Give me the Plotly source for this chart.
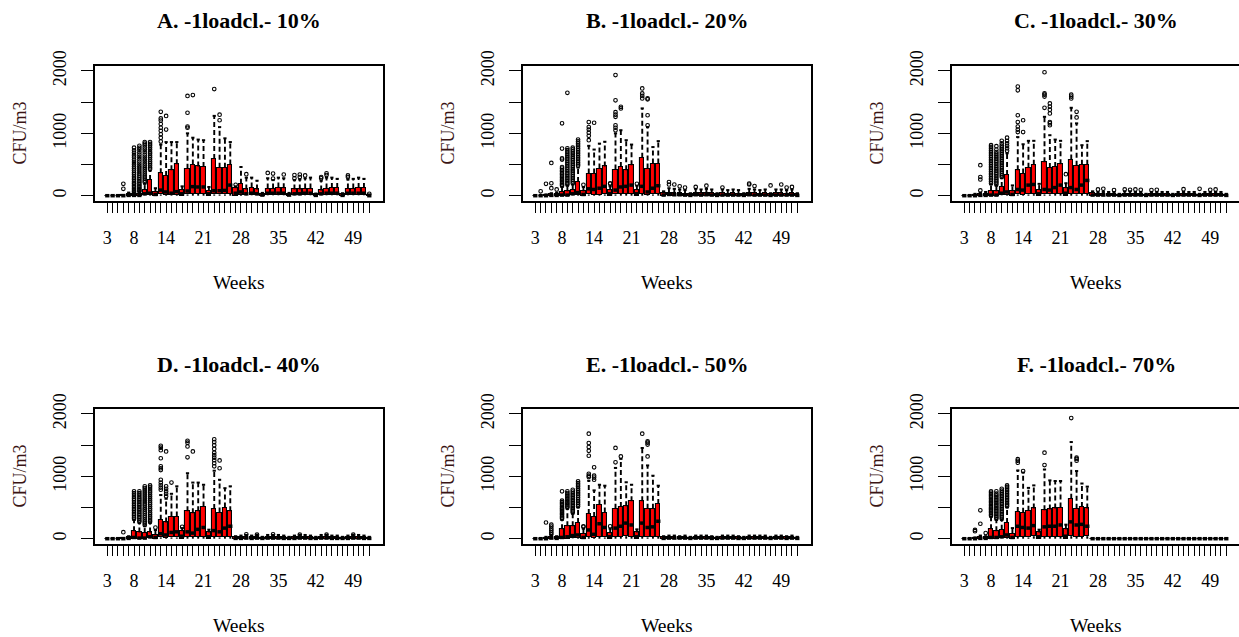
import plotly.graph_objects as go

# ---------------------------------------------------------------------------
# Weekly CFU/m3 box-plot summaries (weeks 3..52) for six load-class settings
# ---------------------------------------------------------------------------
WEEKS = list(range(3, 53))
X_TICK_LABELS = {3: "3", 8: "8", 14: "14", 21: "21", 28: "28", 35: "35", 42: "42", 49: "49"}
Y_TICKS = [0, 500, 1000, 1500, 2000]
Y_TICK_TEXT = ["0", "", "1000", "", "2000"]
LOWER_WHISKER = 0

TITLES = ["A. -1loadcl.- 10%", "B. -1loadcl.- 20%", "C. -1loadcl.- 30%",
          "D. -1loadcl.- 40%", "E. -1loadcl.- 50%", "F. -1loadcl.- 70%"]

# ---- A: 10% ----
A_Q1 = [0, 0, 0, 0, 0, 0, 0, 5, 10, 0,
        20, 15, 10, 15, 0, 20, 30, 30, 30, 0,
        20, 20, 20, 30, 0, 10, 5, 5, 5, 0,
        5, 5, 5, 5, 0, 5, 5, 5, 5, 0,
        5, 5, 5, 5, 0, 5, 5, 5, 5, 0]
A_MED = [0, 0, 0, 0, 5, 5, 5, 30, 40, 20,
         90, 60, 40, 65, 30, 75, 145, 140, 140, 30,
         80, 80, 85, 170, 40, 60, 30, 40, 30, 10,
         40, 40, 40, 40, 10, 30, 30, 40, 40, 5,
         30, 40, 40, 40, 5, 40, 40, 40, 40, 0]
A_Q3 = [0, 0, 0, 5, 30, 25, 30, 90, 250, 60,
        360, 316, 407, 504, 90, 434, 500, 470, 460, 80,
        590, 450, 450, 500, 120, 190, 100, 130, 100, 30,
        115, 115, 130, 120, 30, 100, 100, 115, 115, 20,
        85, 115, 125, 125, 25, 115, 115, 125, 125, 10]
A_HI = [0, 0, 0, 10, 50, 50, 60, 190, 400, 120,
        820, 860, 860, 860, 150, 1000, 930, 900, 890, 140,
        1280, 1100, 920, 860, 150, 460, 290, 290, 240, 45,
        280, 250, 290, 280, 45, 250, 260, 280, 290, 35,
        240, 290, 290, 270, 40, 260, 270, 290, 270, 20]
A_OUT = {
    6: [110, 190],
    8: [55, 70, 92, 115, 138, 160, 186, 205, 232, 258, 284, 310, 345, 372, 405,
        438, 470, 505, 540, 578, 615, 650, 690, 728, 770],
    9: [70, 88, 110, 135, 158, 182, 210, 236, 262, 290, 318, 350, 380, 412, 445,
        478, 512, 548, 585, 620, 658, 695, 735, 768, 800],
    10: [215, 240, 270, 300, 328, 360, 392, 425, 455, 488, 520, 555, 590, 625,
         660, 700, 735, 770, 805, 835, 860],
    11: [430, 455, 490, 520, 548, 580, 612, 640, 672, 700, 735, 768, 800, 830, 860],
    13: [870, 930, 985, 1040, 1090, 1150, 1205, 1240, 1345],
    14: [1060, 1280],
    18: [1090, 1110, 1330, 1600],
    19: [1613],
    23: [1710],
    24: [1210, 1300],
    27: [175],
    29: [345], 33: [365], 34: [275, 355], 36: [340], 38: [280, 330],
    39: [300, 340], 40: [325], 43: [280, 300], 44: [330, 360], 48: [300, 325],
    52: [30],
}

# ---- B: 20% ----
B_Q1 = [0, 0, 0, 0, 0, 0, 0, 5, 10, 0,
        20, 15, 15, 20, 0, 20, 30, 30, 30, 0,
        30, 15, 20, 30, 0, 5, 0, 0, 0, 0,
        0, 0, 0, 0, 0, 0, 0, 0, 0, 0,
        0, 0, 0, 0, 0, 0, 0, 0, 0, 0]
B_MED = [0, 0, 0, 5, 5, 10, 10, 30, 50, 20,
         110, 100, 120, 150, 30, 90, 140, 150, 170, 30,
         150, 60, 120, 160, 10, 20, 15, 15, 10, 5,
         15, 10, 15, 10, 5, 10, 10, 10, 10, 5,
         15, 10, 10, 10, 5, 10, 10, 10, 10, 5]
B_Q3 = [0, 0, 10, 20, 25, 60, 70, 90, 220, 70,
        355, 355, 435, 470, 90, 420, 460, 410, 490, 90,
        610, 435, 515, 515, 40, 50, 40, 40, 35, 20,
        45, 40, 45, 40, 20, 40, 35, 40, 35, 20,
        45, 40, 35, 40, 20, 40, 40, 35, 40, 20]
B_HI = [0, 10, 20, 40, 50, 140, 160, 180, 450, 140,
        800, 740, 835, 865, 150, 1000, 1050, 890, 820, 160,
        1400, 1100, 780, 875, 70, 120, 110, 100, 90, 40,
        110, 100, 110, 100, 40, 100, 90, 100, 90, 40,
        110, 100, 90, 100, 40, 100, 100, 90, 100, 40]
B_OUT = {
    4: [70], 5: [190], 6: [120, 200, 525], 7: [100],
    8: [160, 178, 200, 222, 246, 268, 290, 315, 338, 362, 388, 410, 436, 460,
        580, 600, 755, 1160],
    9: [180, 205, 232, 258, 285, 310, 338, 365, 392, 420, 448, 476, 505, 532,
        560, 590, 618, 645, 672, 700, 730, 760, 1650],
    10: [200, 228, 255, 284, 312, 340, 370, 398, 426, 455, 484, 512, 540, 570,
         598, 626, 655, 684, 712, 742, 770],
    11: [480, 505, 532, 560, 590, 615, 645, 672, 700, 728, 756, 785, 812, 840,
         870, 900],
    12: [175],
    13: [890, 960, 1010, 1060, 1100, 1180],
    14: [1170],
    17: [190, 200],
    18: [1050, 1090, 1130, 1265, 1300, 1340, 1530, 1935],
    19: [1400, 1425],
    22: [190],
    23: [1560, 1600, 1640, 1720],
    24: [1130, 1290, 1545, 1560],
    28: [180, 220], 29: [180], 30: [150], 31: [130], 33: [140], 35: [160],
    38: [130], 43: [180, 195], 44: [155], 47: [165], 49: [180], 50: [130],
    51: [140],
}

# ---- C: 30% ----
C_Q1 = [0, 0, 0, 0, 0, 0, 0, 5, 10, 0,
        20, 15, 20, 25, 0, 20, 20, 30, 30, 0,
        30, 20, 30, 30, 0, 0, 0, 0, 0, 0,
        0, 0, 0, 0, 0, 0, 0, 0, 0, 0,
        0, 0, 0, 0, 0, 0, 0, 0, 0, 0]
C_MED = [0, 0, 0, 5, 5, 10, 10, 40, 60, 20,
         100, 90, 170, 180, 30, 100, 90, 130, 170, 40,
         130, 100, 170, 245, 10, 10, 10, 10, 10, 5,
         10, 10, 10, 10, 5, 10, 10, 10, 10, 5,
         10, 10, 10, 10, 5, 10, 10, 10, 10, 5]
C_Q3 = [0, 0, 10, 20, 30, 80, 70, 140, 330, 70,
        410, 355, 450, 495, 90, 535, 445, 460, 505, 120,
        580, 480, 495, 495, 40, 30, 30, 30, 30, 15,
        30, 30, 30, 30, 15, 30, 30, 30, 30, 15,
        30, 30, 30, 30, 15, 30, 30, 30, 30, 15]
C_HI = [0, 10, 30, 50, 60, 180, 160, 280, 680, 165,
        940, 825, 880, 880, 190, 1265, 970, 900, 880, 200,
        1410, 1160, 810, 875, 70, 60, 60, 60, 60, 30,
        70, 70, 60, 60, 30, 60, 60, 60, 60, 30,
        60, 60, 60, 60, 30, 60, 60, 60, 60, 30]
C_OUT = {
    6: [85, 260, 300, 490],
    8: [200, 226, 254, 280, 308, 335, 362, 390, 418, 446, 474, 502, 530, 558,
        586, 614, 642, 670, 698, 726, 754, 782, 810],
    9: [180, 206, 233, 260, 288, 315, 342, 370, 398, 425, 452, 480, 508, 535,
        562, 590, 618, 645, 672, 700, 740, 795],
    10: [300, 328, 356, 385, 412, 440, 468, 496, 524, 552, 580, 608, 636, 664,
         692, 720, 748, 776, 805, 840, 880],
    11: [720, 760, 800, 840, 880, 930],
    13: [1020, 1060, 1110, 1180, 1290, 1690, 1750],
    14: [1020, 1210],
    18: [1410, 1590, 1620, 1640, 1980],
    19: [1130, 1160, 1180, 1320, 1380, 1430, 1480],
    22: [345],
    23: [1560, 1590, 1620],
    24: [1255, 1345],
    28: [100], 29: [110], 31: [90], 33: [100], 34: [95], 35: [100], 36: [95],
    38: [90], 39: [95], 44: [105], 47: [110], 49: [95], 50: [100],
}

# ---- D: 40% ----
D_Q1 = [0, 0, 0, 0, 0, 0, 0, 0, 5, 0,
        20, 15, 20, 20, 0, 30, 30, 30, 30, 0,
        30, 20, 30, 30, 0, 0, 0, 0, 0, 0,
        0, 0, 0, 0, 0, 0, 0, 0, 0, 0,
        0, 0, 0, 0, 0, 0, 0, 0, 0, 0]
D_MED = [0, 0, 0, 0, 5, 20, 10, 10, 30, 20,
         80, 60, 100, 110, 40, 110, 90, 150, 180, 30,
         130, 110, 170, 200, 5, 5, 10, 5, 10, 5,
         10, 10, 10, 5, 5, 5, 10, 10, 5, 5,
         10, 10, 5, 5, 5, 5, 10, 10, 5, 5]
D_Q3 = [0, 0, 0, 5, 20, 120, 100, 90, 100, 60,
        305, 260, 355, 355, 120, 440, 410, 440, 515, 100,
        475, 420, 500, 440, 20, 20, 25, 20, 25, 15,
        25, 25, 25, 20, 15, 20, 25, 25, 20, 15,
        25, 25, 20, 20, 15, 20, 25, 25, 20, 15]
D_HI = [0, 0, 0, 10, 40, 300, 250, 200, 250, 140,
        700, 640, 720, 840, 170, 1050, 900, 900, 865, 145,
        1090, 945, 810, 840, 40, 50, 60, 50, 60, 30,
        60, 60, 60, 50, 30, 50, 60, 60, 50, 30,
        60, 60, 50, 50, 30, 50, 60, 60, 50, 30]
D_OUT = {
    6: [105],
    8: [320, 345, 372, 398, 425, 452, 478, 505, 532, 560, 588, 615, 642, 670,
        700, 730, 760],
    9: [270, 296, 322, 350, 376, 402, 430, 456, 482, 510, 536, 562, 590, 616,
        642, 670, 700, 730, 760],
    10: [220, 250, 280, 312, 342, 372, 404, 434, 465, 496, 528, 558, 590, 620,
         652, 684, 716, 748, 780, 812, 840],
    11: [270, 300, 330, 362, 392, 422, 455, 485, 515, 548, 578, 610, 642, 672,
         704, 735, 766, 798, 828, 855],
    12: [180],
    13: [785, 820, 860, 900, 945, 1100, 1130, 1160, 1290, 1420, 1460, 1490],
    14: [680, 720, 760, 800, 840, 1400],
    15: [900],
    17: [190],
    18: [1305, 1480, 1540, 1570],
    19: [1400],
    23: [1160, 1210, 1260, 1300, 1340, 1380, 1440, 1500, 1550, 1595],
    24: [1130, 1255],
    29: [70], 31: [65], 34: [70], 39: [65], 44: [65], 49: [65],
}

# ---- E: 50% ----
E_Q1 = [0, 0, 0, 0, 0, 0, 0, 5, 10, 0,
        25, 15, 30, 20, 0, 30, 30, 40, 30, 0,
        30, 20, 30, 30, 0, 0, 0, 0, 0, 0,
        0, 0, 0, 0, 0, 0, 0, 0, 0, 0,
        0, 0, 0, 0, 0, 0, 0, 0, 0, 0]
E_MED = [0, 0, 0, 10, 5, 20, 30, 50, 60, 20,
         140, 70, 240, 180, 30, 170, 200, 250, 220, 30,
         250, 180, 190, 280, 5, 10, 10, 10, 10, 5,
         10, 10, 10, 5, 5, 10, 10, 10, 5, 5,
         10, 10, 10, 10, 5, 10, 10, 5, 10, 5]
E_Q3 = [0, 0, 10, 30, 20, 150, 200, 200, 250, 80,
        395, 350, 545, 420, 90, 480, 510, 520, 600, 100,
        600, 480, 480, 555, 20, 25, 25, 20, 25, 15,
        25, 25, 25, 20, 15, 25, 25, 25, 20, 15,
        25, 25, 25, 25, 15, 25, 25, 20, 25, 15]
E_HI = [0, 0, 30, 60, 40, 300, 480, 400, 500, 160,
        930, 775, 865, 850, 160, 1135, 1280, 905, 865, 150,
        1455, 1175, 1010, 850, 40, 50, 50, 40, 50, 30,
        50, 50, 50, 40, 30, 50, 50, 50, 40, 30,
        50, 50, 50, 50, 30, 50, 50, 40, 50, 30]
E_OUT = {
    5: [260],
    6: [70, 100, 130, 160, 195, 225],
    8: [320, 340, 362, 385, 406, 428, 450, 472, 494, 516, 540, 562, 586, 610, 760],
    9: [500, 522, 545, 568, 590, 612, 636, 660, 684, 708, 732, 760],
    10: [420, 445, 470, 496, 520, 546, 572, 598, 624, 650, 676, 702, 728, 756, 785],
    11: [520, 548, 576, 604, 632, 660, 690, 718, 746, 774, 802, 832, 860, 890, 920],
    12: [190, 200],
    13: [990, 1010, 1040, 1330, 1410, 1470, 1535, 1685],
    14: [945, 980, 1010, 1145],
    17: [200],
    18: [1225, 1455],
    19: [1320],
    23: [1685],
    24: [1320, 1510, 1540, 1560],
}

# ---- F: 70% ----
F_Q1 = [0, 0, 0, 0, 0, 0, 0, 5, 10, 0,
        30, 30, 20, 40, 0, 30, 30, 30, 30, 0,
        40, 30, 30, 40, 0, 0, 0, 0, 0, 0,
        0, 0, 0, 0, 0, 0, 0, 0, 0, 0,
        0, 0, 0, 0, 0, 0, 0, 0, 0, 0]
F_MED = [0, 0, 0, 5, 5, 20, 20, 30, 60, 20,
         200, 180, 170, 210, 30, 190, 200, 200, 220, 40,
         270, 220, 230, 200, 0, 0, 0, 0, 0, 0,
         0, 0, 0, 0, 0, 0, 0, 0, 0, 0,
         0, 0, 0, 0, 0, 0, 0, 0, 0, 0]
F_Q3 = [0, 0, 5, 20, 20, 150, 120, 145, 250, 80,
        430, 415, 450, 485, 100, 455, 470, 485, 500, 150,
        640, 480, 510, 485, 0, 0, 0, 0, 0, 0,
        0, 0, 0, 0, 0, 0, 0, 0, 0, 0,
        0, 0, 0, 0, 0, 0, 0, 0, 0, 0]
F_HI = [0, 0, 20, 50, 40, 350, 300, 300, 500, 170,
        1095, 1060, 815, 855, 145, 1110, 935, 925, 925, 225,
        1550, 1085, 885, 835, 0, 0, 0, 0, 0, 0,
        0, 0, 0, 0, 0, 0, 0, 0, 0, 0,
        0, 0, 0, 0, 0, 0, 0, 0, 0, 0]
F_OUT = {
    5: [120, 140],
    6: [240, 455],
    7: [90],
    8: [370, 392, 415, 438, 460, 484, 506, 530, 552, 575, 598, 620, 644, 668,
        690, 714, 738, 760],
    9: [320, 345, 370, 395, 420, 445, 470, 496, 520, 546, 570, 596, 620, 646,
        672, 696, 722, 760],
    10: [320, 346, 372, 398, 424, 450, 476, 502, 528, 556, 582, 608, 634, 660,
         688, 714, 740, 770, 800],
    11: [520, 545, 570, 596, 622, 648, 674, 700, 726, 752, 778, 804, 830, 855],
    13: [1220, 1250, 1275],
    14: [1085],
    18: [1180, 1380],
    23: [1935],
    24: [1250, 1280, 1300],
}

PANELS = [
    (A_Q1, A_MED, A_Q3, A_HI, A_OUT),
    (B_Q1, B_MED, B_Q3, B_HI, B_OUT),
    (C_Q1, C_MED, C_Q3, C_HI, C_OUT),
    (D_Q1, D_MED, D_Q3, D_HI, D_OUT),
    (E_Q1, E_MED, E_Q3, E_HI, E_OUT),
    (F_Q1, F_MED, F_Q3, F_HI, F_OUT),
]

# ---------------------------------------------------------------------------
# Page geometry (pixels) for the 3 x 2 grid
# ---------------------------------------------------------------------------
W, H = 1239, 637
COL_LEFT = [95, 523, 952]
PLOT_W = 288
ROW_TOP = [66, 409]
PLOT_H = 135
UNITS_PER_PX = 1 / 5.347          # week spacing on screen
X_START = 0.70                    # left edge of each plot in week units
Y_RANGE = [-85, 2080]

FONT = "Liberation Serif"
BOX_W = 0.8
STAPLE_W = 0.6


def fx(px):
    return px / W


def fy(py):
    return 1 - py / H


fig = go.Figure()
layout_axes = {}
annotations = []

for i, (q1, med, q3, hi, out) in enumerate(PANELS):
    row, col = divmod(i, 3)
    left = COL_LEFT[col]
    right = min(left + PLOT_W, W)
    top = ROW_TOP[row]
    bottom = top + PLOT_H
    n = i + 1
    xname = "x" if n == 1 else f"x{n}"
    yname = "y" if n == 1 else f"y{n}"
    xkey = "xaxis" if n == 1 else f"xaxis{n}"
    ykey = "yaxis" if n == 1 else f"yaxis{n}"

    # boxes
    fig.add_trace(go.Bar(
        x=WEEKS, base=q1, y=[b - a for a, b in zip(q1, q3)], width=BOX_W,
        marker=dict(color="#ff0000", line=dict(color="black", width=1.1)),
        xaxis=xname, yaxis=yname, showlegend=False, hoverinfo="skip"))

    # dashed whiskers
    wx, wy = [], []
    for w, a, b, h in zip(WEEKS, q1, q3, hi):
        if h > b:
            wx += [w, w, None]
            wy += [b, h, None]
        if a > LOWER_WHISKER:
            wx += [w, w, None]
            wy += [a, LOWER_WHISKER, None]
    fig.add_trace(go.Scatter(
        x=wx, y=wy, mode="lines", line=dict(color="black", width=1.9, dash="5px,3px"),
        xaxis=xname, yaxis=yname, showlegend=False, hoverinfo="skip"))

    # staples at whisker ends
    sx, sy = [], []
    for w, b, h in zip(WEEKS, q3, hi):
        if h > b:
            sx += [w - STAPLE_W / 2, w + STAPLE_W / 2, None]
            sy += [h, h, None]
    fig.add_trace(go.Scatter(
        x=sx, y=sy, mode="lines", line=dict(color="black", width=2),
        xaxis=xname, yaxis=yname, showlegend=False, hoverinfo="skip"))

    # medians
    mx, my = [], []
    for w, m in zip(WEEKS, med):
        mx += [w - BOX_W / 2, w + BOX_W / 2, None]
        my += [m, m, None]
    fig.add_trace(go.Scatter(
        x=mx, y=my, mode="lines", line=dict(color="black", width=3.5),
        xaxis=xname, yaxis=yname, showlegend=False, hoverinfo="skip"))

    # outliers
    ox, oy = [], []
    for w, vals in out.items():
        ox += [w] * len(vals)
        oy += vals
    fig.add_trace(go.Scatter(
        x=ox, y=oy, mode="markers",
        marker=dict(symbol="circle-open", size=3.6, color="black", line=dict(width=1.1)),
        xaxis=xname, yaxis=yname, showlegend=False, hoverinfo="skip", cliponaxis=False))

    x_end = X_START + (right - left) * UNITS_PER_PX
    layout_axes[xkey] = dict(
        domain=[fx(left), fx(right)], anchor=yname, range=[X_START, x_end],
        automargin=False,
        tickmode="array", tickvals=WEEKS,
        ticktext=[X_TICK_LABELS.get(w, "") for w in WEEKS],
        ticks="outside", ticklen=10, tickwidth=1.2, tickcolor="black",
        ticklabelstandoff=10,
        showline=True, mirror=True, linecolor="black", linewidth=1.6,
        showgrid=False, zeroline=False,
        tickfont=dict(family=FONT, size=18, color="black"))
    layout_axes[ykey] = dict(
        domain=[fy(bottom), fy(top)], anchor=xname, range=Y_RANGE,
        automargin=False,
        tickmode="array", tickvals=Y_TICKS, ticktext=Y_TICK_TEXT,
        ticks="outside", ticklen=12, tickwidth=1.4, tickcolor="black",
        tickangle=-90, ticklabelstandoff=8,
        showline=True, mirror=True, linecolor="black", linewidth=1.6,
        showgrid=False, zeroline=False,
        tickfont=dict(family=FONT, size=18, color="black"))

    cx = (left + left + PLOT_W) / 2
    annotations.append(dict(
        text=f"<b>{TITLES[i]}</b>", x=fx(cx), y=fy(top - 45), xref="paper", yref="paper",
        showarrow=False, xanchor="center", yanchor="middle",
        font=dict(family=FONT, size=22, color="black")))
    annotations.append(dict(
        text="Weeks", x=fx(cx), y=fy(bottom + 81), xref="paper", yref="paper",
        showarrow=False, xanchor="center", yanchor="middle",
        font=dict(family=FONT, size=19.5, color="black")))
    annotations.append(dict(
        text="CFU/m3", x=fx(left - 76), y=fy((top + bottom) / 2), xref="paper", yref="paper",
        showarrow=False, xanchor="center", yanchor="middle", textangle=-90,
        font=dict(family=FONT, size=18, color="#3a1414")))

fig.update_layout(
    template="none",
    width=W, height=H, margin=dict(l=0, r=0, t=0, b=0, autoexpand=False),
    paper_bgcolor="white", plot_bgcolor="white",
    barmode="overlay", bargap=0, showlegend=False,
    annotations=annotations, **layout_axes)

fig.write_html("out.html")
